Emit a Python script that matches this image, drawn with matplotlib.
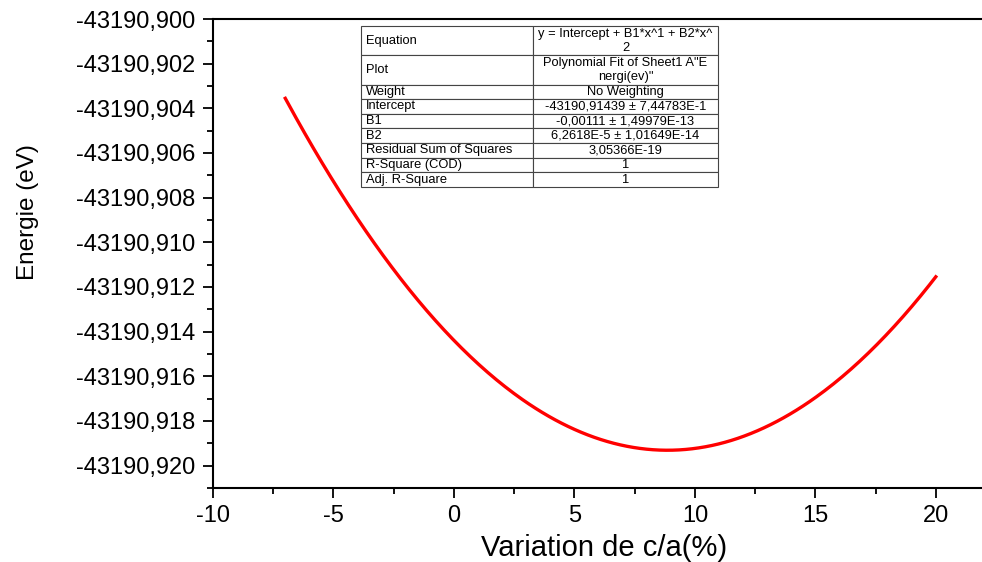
import numpy as np
import matplotlib.pyplot as plt
from matplotlib.ticker import FuncFormatter, MultipleLocator

plt.rcParams['font.family'] = ['Liberation Sans', 'DejaVu Sans']
plt.rcParams['axes.unicode_minus'] = False

# polynomial fit results (Origin report)
intercept = -43190.91439
b1 = -0.00111
b2 = 6.2618e-5
x_start, x_end = -7, 20

table_labels = ["Equation", "Plot", "Weight", "Intercept", "B1", "B2",
                "Residual Sum of Squares", "R-Square (COD)", "Adj. R-Square"]
table_values = ["y = Intercept + B1*x^1 + B2*x^\n2",
                "Polynomial Fit of Sheet1 A\"E\nnergi(ev)\"",
                "No Weighting",
                "-43190,91439 ± 7,44783E-1",
                "-0,00111 ± 1,49979E-13",
                "6,2618E-5 ± 1,01649E-14",
                "3,05366E-19",
                "1",
                "1"]
row_units = [2, 2, 1, 1, 1, 1, 1, 1, 1]

x = np.linspace(x_start, x_end, 300)
y = intercept + b1 * x + b2 * x ** 2

fig = plt.figure(figsize=(9.82, 5.62), dpi=100)
ax = fig.add_axes([213 / 982, 74 / 562, 771 / 982, 469 / 562])

ax.plot(x, y, color="#ff0000", lw=2.4)

ax.set_xlim(-10, 22)
ax.set_ylim(-43190.921, -43190.900)
ax.xaxis.set_major_locator(MultipleLocator(5))
ax.xaxis.set_minor_locator(MultipleLocator(2.5))
ax.yaxis.set_major_locator(MultipleLocator(0.002))
ax.yaxis.set_minor_locator(MultipleLocator(0.001))
ax.yaxis.set_major_formatter(FuncFormatter(lambda v, p: "{:.3f}".format(v).replace(".", ",")))

for s in ["left", "bottom", "top"]:
    ax.spines[s].set_linewidth(1.5)
ax.spines["right"].set_visible(False)
ax.tick_params(which="major", direction="out", length=7.5, width=1.3, labelsize=17, pad=5)
ax.tick_params(which="minor", direction="out", length=4, width=1.3)
ax.tick_params(top=False, right=False, which="both")

ax.set_xlabel("Variation de c/a(%)", fontsize=21)
ax.set_ylabel("Energie (eV)", fontsize=17.5)
ax.xaxis.set_label_coords(0.507, -0.098)
ax.yaxis.set_label_coords(-0.226, 0.588)

# fit report table
cells = [[a, b] for a, b in zip(table_labels, table_values)]
tbl = ax.table(cellText=cells, colWidths=[172, 185],
               bbox=[0.192, 0.642, 0.463, 0.343], cellLoc="center")
tbl.auto_set_font_size(False)
tbl.set_fontsize(9.3)
for (r, c), cell in tbl.get_celld().items():
    cell.set_height(row_units[r])
    cell.set_edgecolor("#444444")
    cell.set_linewidth(0.8)
    cell.get_text().set_fontsize(9.3)
    if c == 0:
        cell.get_text().set_ha("left")
        cell._loc = "left"
        cell.PAD = 0.03

fig.savefig("out.png", dpi=100)
